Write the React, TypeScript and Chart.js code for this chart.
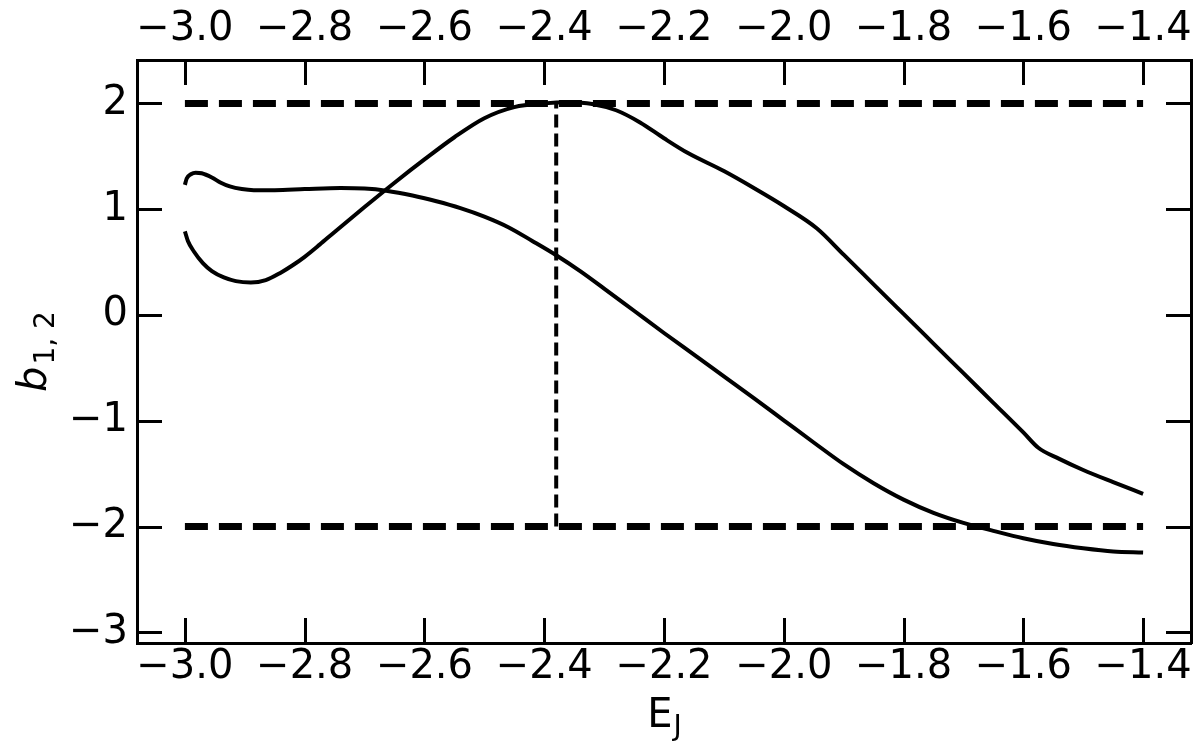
import React, { useEffect, useRef } from "react";
import { Chart, registerables } from "chart.js";

Chart.register(...registerables);

// ---- data ----
const xTicks = [-3.0, -2.8, -2.6, -2.4, -2.2, -2.0, -1.8, -1.6, -1.4];
const yTicks = [-3, -2, -1, 0, 1, 2];

const curveAx = [-3.0, -2.995, -2.985, -2.97, -2.955, -2.935, -2.915, -2.89, -2.865, -2.84, -2.82, -2.8, -2.775, -2.75, -2.7, -2.65, -2.6, -2.55, -2.5, -2.45, -2.4, -2.36, -2.32, -2.28, -2.24, -2.2, -2.16, -2.1, -2.05, -2.0, -1.945, -1.9, -1.85, -1.8, -1.75, -1.7, -1.65, -1.6, -1.575, -1.54, -1.5, -1.45, -1.4];
const curveAy = [0.79, 0.7, 0.6, 0.49, 0.415, 0.355, 0.32, 0.307, 0.33, 0.4, 0.47, 0.55, 0.665, 0.785, 1.02, 1.25, 1.47, 1.68, 1.86, 1.965, 2.0, 2.01, 1.995, 1.935, 1.82, 1.67, 1.53, 1.36, 1.2, 1.03, 0.82, 0.57, 0.29, 0.01, -0.27, -0.55, -0.83, -1.11, -1.255, -1.36, -1.465, -1.58, -1.69];

const curveBx = [-3.0, -2.997, -2.99, -2.982, -2.972, -2.955, -2.94, -2.925, -2.905, -2.885, -2.85, -2.8, -2.74, -2.7, -2.664, -2.62, -2.58, -2.54, -2.5, -2.46, -2.42, -2.38, -2.34, -2.3, -2.25, -2.2, -2.15, -2.1, -2.05, -2.0, -1.95, -1.9, -1.85, -1.8, -1.75, -1.7, -1.65, -1.6, -1.55, -1.5, -1.45, -1.4];
const curveBy = [1.23, 1.29, 1.33, 1.345, 1.34, 1.3, 1.25, 1.215, 1.19, 1.18, 1.18, 1.19, 1.2, 1.195, 1.175, 1.13, 1.075, 1.01, 0.93, 0.83, 0.7, 0.565, 0.415, 0.25, 0.04, -0.17, -0.375, -0.58, -0.785, -0.995, -1.205, -1.41, -1.59, -1.745, -1.87, -1.965, -2.04, -2.11, -2.165, -2.205, -2.235, -2.245];

const boundX = [-3.0, -1.4];
const upperBoundY = [2, 2];
const lowerBoundY = [-2, -2];
const markerX = [-2.38, -2.38];
const markerY = [-2, 2];

const X_MIN = -3.08;
const X_MAX = -1.32;
const Y_MIN = -3.1;
const Y_MAX = 2.41;

const FONT = "DejaVu Sans";

const zip = (xs: number[], ys: number[]) => xs.map((x, i) => ({ x, y: ys[i] }));
const fmtX = (v: number) => (v < 0 ? "\u2212" : "") + Math.abs(v).toFixed(1);
const fmtY = (v: number) => (v < 0 ? "\u2212" : "") + Math.abs(Math.round(v)).toString();

const decorPlugin = {
  id: "decor",
  afterDraw(chart: any) {
    const ctx = chart.ctx as CanvasRenderingContext2D;
    const { left, right, top, bottom } = chart.chartArea;
    const xs = chart.scales.x;
    const ys = chart.scales.y;
    const TL = 25;
    ctx.save();
    ctx.strokeStyle = "#000";
    ctx.lineWidth = 3;
    ctx.lineCap = "butt";
    ctx.beginPath();
    for (const v of xTicks) {
      const px = Math.round(xs.getPixelForValue(v)) + 0.5;
      ctx.moveTo(px, bottom);
      ctx.lineTo(px, bottom - TL);
      ctx.moveTo(px, top);
      ctx.lineTo(px, top + TL);
    }
    for (const v of yTicks) {
      const py = Math.round(ys.getPixelForValue(v)) + 0.5;
      ctx.moveTo(left, py);
      ctx.lineTo(left + TL, py);
      ctx.moveTo(right, py);
      ctx.lineTo(right - TL, py);
    }
    ctx.stroke();

    // x axis title: E_J
    ctx.fillStyle = "#000";
    ctx.textBaseline = "alphabetic";
    ctx.textAlign = "left";
    const cx = (left + right) / 2;
    ctx.font = `40px "${FONT}"`;
    const wE = ctx.measureText("E").width;
    ctx.font = `28px "${FONT}"`;
    const wJ = ctx.measureText("J").width;
    const sx = cx - (wE + wJ) / 2;
    ctx.font = `40px "${FONT}"`;
    ctx.fillText("E", sx, 727);
    ctx.font = `28px "${FONT}"`;
    ctx.fillText("J", sx + wE + 1, 735);

    // y axis title: b_{1,2}
    const cy = (top + bottom) / 2;
    ctx.save();
    ctx.translate(46, cy);
    ctx.rotate(-Math.PI / 2);
    ctx.font = `italic 40px "${FONT}"`;
    const wb = ctx.measureText("b").width;
    ctx.font = `28px "${FONT}"`;
    const ws = ctx.measureText("1, 2").width;
    const start = -(wb + ws + 2) / 2;
    ctx.font = `italic 40px "${FONT}"`;
    ctx.fillText("b", start, 0);
    ctx.font = `28px "${FONT}"`;
    ctx.fillText("1, 2", start + wb + 2, 8);
    ctx.restore();

    ctx.restore();
  },
};

export default function App() {
  const canvasRef = useRef<HTMLCanvasElement | null>(null);

  useEffect(() => {
    const canvas = canvasRef.current;
    if (!canvas) return;
    Chart.defaults.font.family = FONT;
    const solid = (xs: number[], ys: number[]) => ({
      data: zip(xs, ys),
      borderColor: "#000",
      backgroundColor: "#000",
      borderWidth: 4,
      pointRadius: 0,
      pointHoverRadius: 0,
      fill: false,
      cubicInterpolationMode: "monotone" as const,
      xAxisID: "x",
      yAxisID: "y",
    });
    const dashed = (xs: number[], ys: number[], w: number, dash: number[]) => ({
      data: zip(xs, ys),
      borderColor: "#000",
      backgroundColor: "#000",
      borderWidth: w,
      borderDash: dash,
      borderCapStyle: "butt" as const,
      pointRadius: 0,
      pointHoverRadius: 0,
      fill: false,
      tension: 0,
      xAxisID: "x",
      yAxisID: "y",
    });

    const tickFont = { size: 40, family: FONT };
    const xScaleBase = (pos: "top" | "bottom", h: number, pad: number) => ({
      type: "linear" as const,
      position: pos,
      min: X_MIN,
      max: X_MAX,
      afterBuildTicks: (s: any) => {
        s.ticks = xTicks.map((v) => ({ value: v }));
      },
      afterFit: (s: any) => {
        s.height = h;
      },
      grid: { display: false, drawTicks: false },
      border: { display: true, color: "#000", width: 3 },
      ticks: {
        color: "#000",
        font: tickFont,
        padding: pad,
        maxRotation: 0,
        minRotation: 0,
        autoSkip: false,
        callback: (v: any) => fmtX(Number(v)),
      },
    });
    const yScaleBase = (pos: "left" | "right", w: number, show: boolean) => ({
      type: "linear" as const,
      position: pos,
      min: Y_MIN,
      max: Y_MAX,
      afterBuildTicks: (s: any) => {
        s.ticks = yTicks.map((v) => ({ value: v }));
      },
      afterFit: (s: any) => {
        s.width = w;
      },
      grid: { display: false, drawTicks: false },
      border: { display: true, color: "#000", width: 3 },
      ticks: {
        display: show,
        color: "#000",
        font: tickFont,
        padding: 9,
        autoSkip: false,
        callback: (v: any) => fmtY(Number(v)),
      },
    });

    const chart = new Chart(canvas, {
      type: "line",
      data: {
        datasets: [
          dashed(boundX, upperBoundY, 7, [23, 11]),
          dashed(boundX, lowerBoundY, 7, [23, 11]),
          dashed(markerX, markerY, 4, [13, 6]),
          solid(curveAx, curveAy),
          solid(curveBx, curveBy),
        ] as any,
      },
      options: {
        responsive: false,
        animation: false,
        events: [],
        layout: { padding: 0 },
        plugins: {
          legend: { display: false },
          tooltip: { enabled: false },
          title: { display: false },
        },
        scales: {
          x: xScaleBase("bottom", 105, 1),
          x2: xScaleBase("top", 60, 6),
          y: yScaleBase("left", 137, true),
          y2: yScaleBase("right", 9, false),
        } as any,
      },
      plugins: [decorPlugin],
    });
    return () => chart.destroy();
  }, []);

  return (
    <div style={{ position: "absolute", left: 0, top: 0, width: 1200, height: 748, background: "#fff" }}>
      <canvas ref={canvasRef} width={1200} height={748} style={{ display: "block" }} />
    </div>
  );
}
